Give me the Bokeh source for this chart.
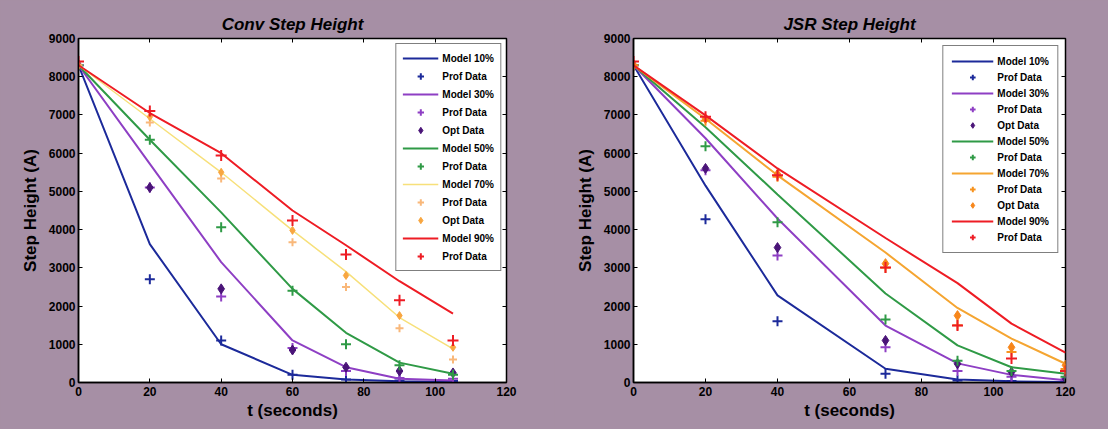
from bokeh.plotting import figure
from bokeh.layouts import row
from bokeh.models import Legend, LegendItem, LinearAxis, FixedTicker, Range1d
from bokeh.embed import file_html
from bokeh.resources import INLINE

# ---------------- data: Conv Step Height ----------------
conv_t = [0, 20, 40, 60, 75, 90, 105]
conv_model10 = [8300, 3620, 1000, 200, 80, 30, 10]
conv_prof10 = [8300, 2700, 1100, 200, 80, 50, 40]
conv_model30 = [8300, 5720, 3150, 1100, 400, 100, 50]
conv_prof30 = [8300, 5100, 2250, 900, 300, 120, 100]
conv_opt30 = [8300, 5100, 2450, 850, 400, 300, 250]
conv_model50 = [8300, 6350, 4450, 2450, 1300, 520, 230]
conv_prof50 = [8300, 6350, 4060, 2400, 1000, 450, 200]
conv_model70 = [8300, 6900, 5500, 3980, 2900, 1700, 880]
conv_prof70 = [8300, 6800, 5340, 3670, 2500, 1420, 600]
conv_opt70 = [8300, 6950, 5500, 3980, 2800, 1750, 920]
conv_model90 = [8300, 7050, 6000, 4500, 3590, 2650, 1800]
conv_prof90 = [8400, 7100, 5940, 4240, 3350, 2150, 1100]

# ---------------- data: JSR Step Height ----------------
jsr_t = [0, 20, 40, 70, 90, 105, 120]
jsr_model10 = [8300, 5150, 2280, 360, 80, 30, 10]
jsr_prof10 = [8300, 4270, 1600, 230, 50, 40, 30]
jsr_model30 = [8300, 6390, 4290, 1490, 500, 200, 60]
jsr_prof30 = [8300, 5550, 3320, 920, 300, 150, 80]
jsr_opt30 = [8300, 5600, 3530, 1100, 490, 270, 100]
jsr_model50 = [8300, 6680, 4920, 2330, 970, 400, 230]
jsr_prof50 = [8300, 6180, 4190, 1650, 570, 300, 150]
jsr_model70 = [8300, 6900, 5420, 3400, 1950, 1150, 490]
jsr_prof70 = [8300, 6850, 5380, 3000, 1500, 800, 350]
jsr_opt70 = [8300, 6900, 5450, 3110, 1750, 920, 450]
jsr_model90 = [8300, 6990, 5600, 3780, 2600, 1540, 780]
jsr_prof90 = [8400, 6950, 5420, 3010, 1490, 630, 300]

x_ticks = [0, 20, 40, 60, 80, 100, 120]
y_ticks = [0, 1000, 2000, 3000, 4000, 5000, 6000, 7000, 8000, 9000]

BG = "#a68fa5"
FONT = "Liberation Sans"

BLUE = "#1c2a9a"
PURPLE = "#8e3fc4"
DPURPLE = "#4a1478"
GREEN = "#2f9a46"
RED = "#ee1c24"


def make(title, t, series, frame_w, bl, br, leg_spec):
    p = figure(frame_width=frame_w, frame_height=344,
               min_border_left=bl, min_border_right=br,
               min_border_top=38, min_border_bottom=47,
               x_range=Range1d(0, 120), y_range=Range1d(0, 9000),
               output_backend="svg", toolbar_location=None,
               background_fill_color="white", border_fill_color=BG)
    p.title.text = title
    p.title.align = "center"
    p.title.text_font = FONT
    p.title.text_font_style = "bold italic"
    p.title.text_font_size = "17px"
    p.title.text_color = "black"
    p.xgrid.visible = False
    p.ygrid.visible = False
    p.outline_line_color = "black"
    p.outline_line_width = 1.5

    for ax, ticks in ((p.xaxis[0], x_ticks), (p.yaxis[0], y_ticks)):
        ax.ticker = FixedTicker(ticks=ticks)
        ax.major_tick_in = 4
        ax.major_tick_out = 0
        ax.minor_tick_line_color = None
        ax.axis_line_color = "black"
        ax.axis_line_width = 1.5
        ax.major_label_text_font = FONT
        ax.major_label_text_font_style = "bold"
        ax.major_label_text_font_size = "12px"
        ax.major_label_text_color = "black"
        ax.axis_label_text_font = FONT
        ax.axis_label_text_font_style = "bold"
        ax.axis_label_text_font_size = "17px"
        ax.axis_label_text_color = "black"
    p.xaxis.axis_label = "t (seconds)"
    p.yaxis.axis_label = "Step Height (A)"
    p.xaxis.major_label_standoff = 4
    p.yaxis.major_label_standoff = 3
    p.xaxis.axis_label_standoff = 2
    p.yaxis.axis_label_standoff = 6

    for loc, ticks in (("above", x_ticks), ("right", y_ticks)):
        ax = LinearAxis(ticker=FixedTicker(ticks=ticks),
                        major_tick_in=4, major_tick_out=0,
                        minor_tick_line_color=None, axis_line_color=None,
                        major_label_text_font_size="1px",
                        major_label_text_color=None,
                        major_label_standoff=0)
        p.add_layout(ax, loc)

    items = []
    for label, kind, vals, color, extra in series:
        if kind == "line":
            r = p.line(t, vals, line_color=color, line_width=extra)
        elif kind == "prof":
            r = p.scatter(t, vals, marker="cross", size=extra,
                          line_color=color, line_width=2)
        else:
            r = p.scatter(t, vals, marker="diamond", size=extra,
                          fill_color=color, line_color=color)
        items.append(LegendItem(label=label, renderers=[r]))

    gh, sp, pad, mg, gw = leg_spec
    leg = Legend(items=items, location="top_right",
                 label_text_font=FONT, label_text_font_style="bold",
                 label_text_font_size="10px", label_text_color="black",
                 glyph_width=gw, glyph_height=gh, label_height=gh,
                 label_standoff=4, spacing=sp, padding=pad, margin=mg,
                 border_line_color="black", border_line_width=1.5,
                 background_fill_color="white", background_fill_alpha=1)
    p.add_layout(leg, "center")
    return p


conv_series = [
    ("Model 10%", "line", conv_model10, BLUE, 2),
    ("Prof Data", "prof", conv_prof10, BLUE, 10),
    ("Model 30%", "line", conv_model30, PURPLE, 2),
    ("Prof Data", "prof", conv_prof30, PURPLE, 10),
    ("Opt Data", "opt", conv_opt30, DPURPLE, 10),
    ("Model 50%", "line", conv_model50, GREEN, 2),
    ("Prof Data", "prof", conv_prof50, GREEN, 10),
    ("Model 70%", "line", conv_model70, "#f7e07a", 1.5),
    ("Prof Data", "prof", conv_prof70, "#f9b87a", 8),
    ("Opt Data", "opt", conv_opt70, "#f8a640", 8),
    ("Model 90%", "line", conv_model90, RED, 2),
    ("Prof Data", "prof", conv_prof90, RED, 11),
]

jsr_series = [
    ("Model 10%", "line", jsr_model10, BLUE, 2),
    ("Prof Data", "prof", jsr_prof10, BLUE, 10),
    ("Model 30%", "line", jsr_model30, PURPLE, 2),
    ("Prof Data", "prof", jsr_prof30, PURPLE, 10),
    ("Opt Data", "opt", jsr_opt30, DPURPLE, 10),
    ("Model 50%", "line", jsr_model50, GREEN, 2),
    ("Prof Data", "prof", jsr_prof50, GREEN, 10),
    ("Model 70%", "line", jsr_model70, "#f5a531", 2),
    ("Prof Data", "prof", jsr_prof70, "#f7931e", 10),
    ("Opt Data", "opt", jsr_opt70, "#f7861a", 10),
    ("Model 90%", "line", jsr_model90, RED, 2),
    ("Prof Data", "prof", jsr_prof90, RED, 11),
]

p1 = make("Conv Step Height", conv_t, conv_series, 428, 78, 48, (16, 2, 6, 5, 36))
p2 = make("JSR Step Height", jsr_t, jsr_series, 432, 79, 43, (14, 2, 8, 7, 42))

layout = row(p1, p2, styles={"background-color": BG})
open("out.html", "w").write(file_html(layout, INLINE))
